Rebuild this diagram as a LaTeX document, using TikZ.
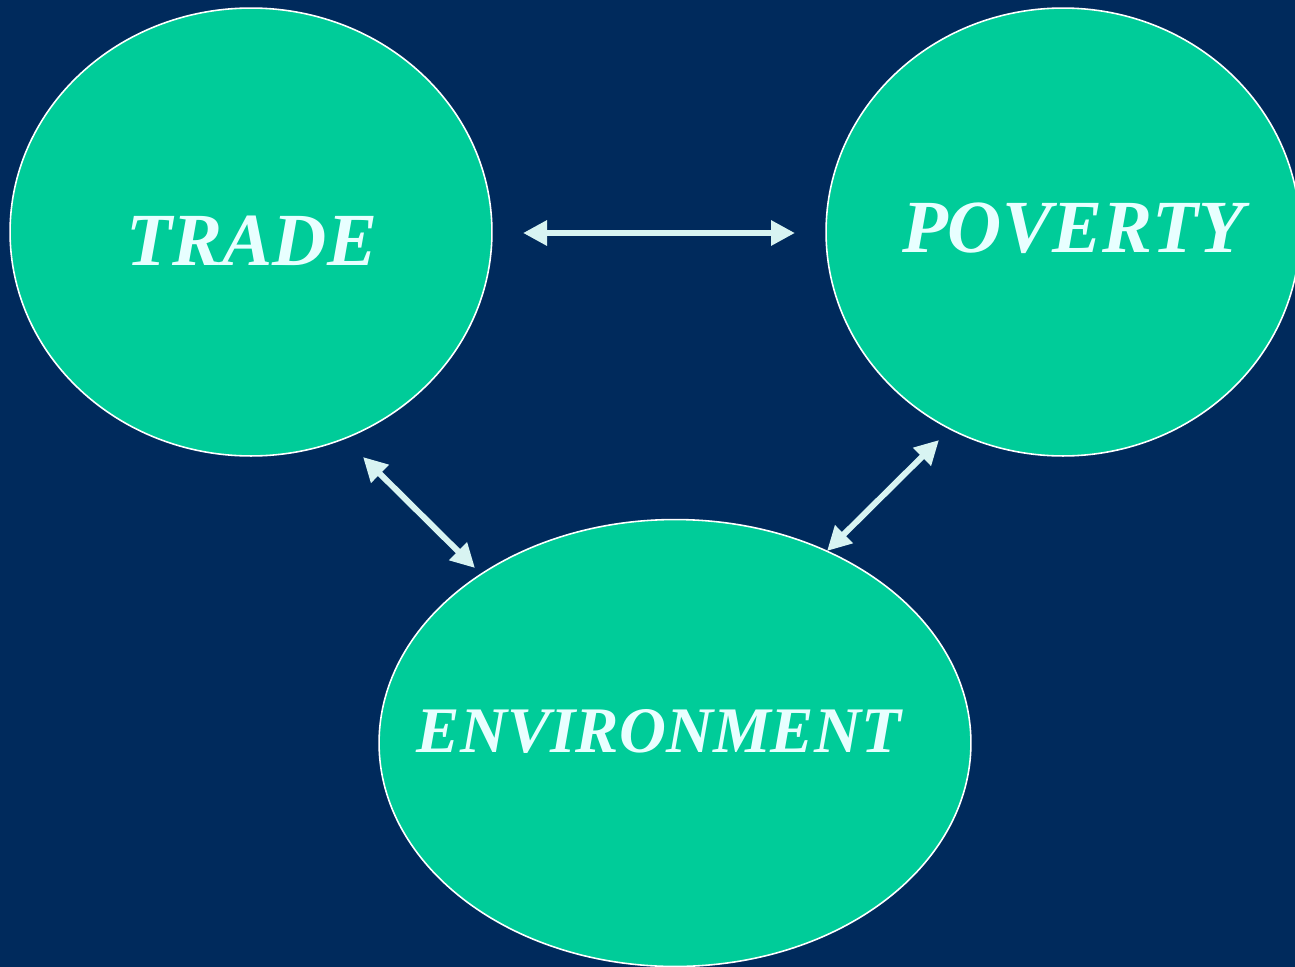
\documentclass[tikz,border=0pt]{standalone}
\usepackage{fontspec}
\setmainfont{Liberation Serif}[BoldItalicFont={Liberation Serif Bold Italic}]
\usetikzlibrary{shapes.geometric,arrows.meta}
\definecolor{bgblue}{HTML}{002A5C}
\definecolor{blobgreen}{HTML}{00CC99}
\definecolor{txtcol}{HTML}{E8FFFF}
\definecolor{arrcol}{HTML}{D8F4F2}
\tikzset{
  blob/.style={ellipse, fill=blobgreen, draw=white, line width=0.9pt, inner sep=0pt},
  lbl/.style={text=txtcol, anchor=base, inner sep=0pt},
  link/.style={draw=arrcol, line width=3.4pt, {Triangle[length=0.48cm,width=0.48cm]}-{Triangle[length=0.48cm,width=0.48cm]}}
}
\begin{document}
\begin{tikzpicture}[x=0.02cm,y=-0.02cm]
\fill[bgblue] (0,0) rectangle (1295,967);
\useasboundingbox (0,0) rectangle (1295,967);
\node[blob, minimum width=9.64cm, minimum height=8.96cm] (trade) at (251,232) {};
\node[blob, minimum width=9.48cm, minimum height=8.96cm] (poverty) at (1063,232) {};
\node[blob, minimum width=11.84cm, minimum height=8.94cm] (env) at (675,743) {};
\node[lbl, font=\fontsize{42.7pt}{48pt}\selectfont\bfseries\itshape] (tradetxt) at (252,265) {TRADE};
\node[lbl, font=\fontsize{42.7pt}{48pt}\selectfont\bfseries\itshape] (povtxt) at (1073,252) {POVERTY};
\node[lbl, font=\fontsize{37pt}{42pt}\selectfont\bfseries\itshape] (envtxt) at (659,752) {ENVIRONMENT};
\coordinate (a1) at (523,233);
\coordinate (a2) at (795,233);
\coordinate (b1) at (363,457);
\coordinate (b2) at (475,568);
\coordinate (c1) at (939,440);
\coordinate (c2) at (827,551);
\draw[link] (a1) -- (a2);
\draw[link] (b1) -- (b2);
\draw[link] (c1) -- (c2);
\end{tikzpicture}
\end{document}
